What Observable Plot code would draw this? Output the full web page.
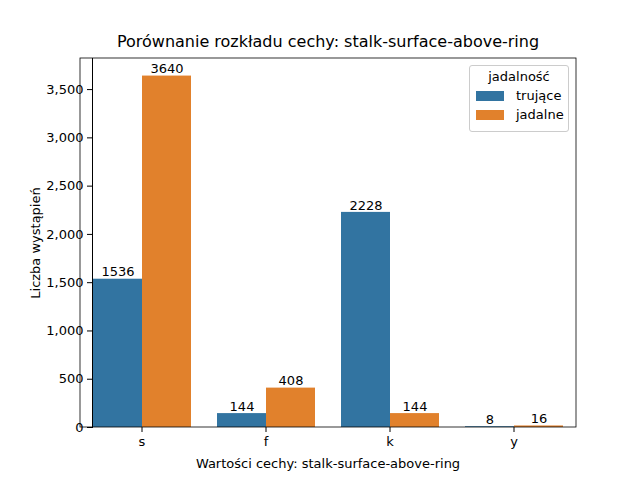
<!DOCTYPE html>
<html><head><meta charset="utf-8">
<script src="https://cdn.jsdelivr.net/npm/d3@7"></script>
<script src="https://cdn.jsdelivr.net/npm/@observablehq/plot@0.6"></script>
<style>
body{margin:0;font-family:"DejaVu Sans",sans-serif;background:#fff}
#wrap{position:relative;width:640px;height:480px}
#title{position:absolute;top:32px;left:80px;width:496px;text-align:center;font-size:16px}
#legend{position:absolute;left:469px;top:65px;width:98px;height:65px;border:1px solid #ccc;border-radius:3px;background:#fff;font-size:13px}
#legend .h{text-align:center;margin-top:3px}
#legend .r{display:flex;align-items:center;margin-left:6px;margin-top:4px}
#legend .s{width:28px;height:10px;margin-right:12px}
</style></head><body>
<div id="wrap"><div id="title">Porównanie rozkładu cechy: stalk-surface-above-ring</div><div id="chart"></div>
<div id="legend"><div class="h">jadalność</div>
<div class="r"><span class="s" style="background:#3274a1"></span>trujące</div>
<div class="r"><span class="s" style="background:#e1812c"></span>jadalne</div></div></div>
<script>
const categories = ["s","f","k","y"];
const series = ["trujące","jadalne"];
const trujace = [1536,144,2228,8];
const jadalne = [3640,408,144,16];
const colors = ["#3274a1","#e1812c"];
const yTicks = [0,500,1000,1500,2000,2500,3000,3500];
const data = [];
categories.forEach((c,i)=>{data.push({cat:c,s:series[0],v:trujace[i]});data.push({cat:c,s:series[1],v:jadalne[i]});});
const p = Plot.plot({
  width:640,height:480,marginLeft:80,marginRight:64,marginTop:58,marginBottom:53,
  style:{fontFamily:"DejaVu Sans",fontSize:"13px",color:"#000"},
  fx:{domain:categories,paddingInner:0.2,paddingOuter:0.1,label:"Wartości cechy: stalk-surface-above-ring",labelAnchor:"center",labelOffset:40,tickSize:5},
  x:{domain:series,padding:0,axis:null},
  y:{domain:[0,3822],ticks:yTicks,label:"Liczba wystąpień",labelAnchor:"center",labelOffset:62,tickSize:5},
  color:{domain:series,range:colors},
  marks:[
    Plot.barY(data,{fx:"cat",x:"s",y:"v",fill:"s"}),
    Plot.text(data,{fx:"cat",x:"s",y:"v",text:d=>String(d.v),dy:-7,fontSize:13}),
    Plot.axisFx({anchor:"bottom",label:"Wartości cechy: stalk-surface-above-ring",labelAnchor:"center",labelOffset:40,tickSize:5,fontSize:13}),
    Plot.axisY({ticks:yTicks,label:"Liczba wystąpień",labelAnchor:"center",labelArrow:"none",labelOffset:62,tickSize:5,fontSize:13}),
    Plot.frame({anchor:"left",facet:"super"})
  ]
});
document.getElementById("chart").appendChild(p);
// draw a single frame around the plot area
const svg = d3.select(p);
svg.append("rect").attr("x",80).attr("y",58).attr("width",496).attr("height",369).attr("fill","none").attr("stroke","#000").attr("stroke-width",0.8);
</script></body></html>
